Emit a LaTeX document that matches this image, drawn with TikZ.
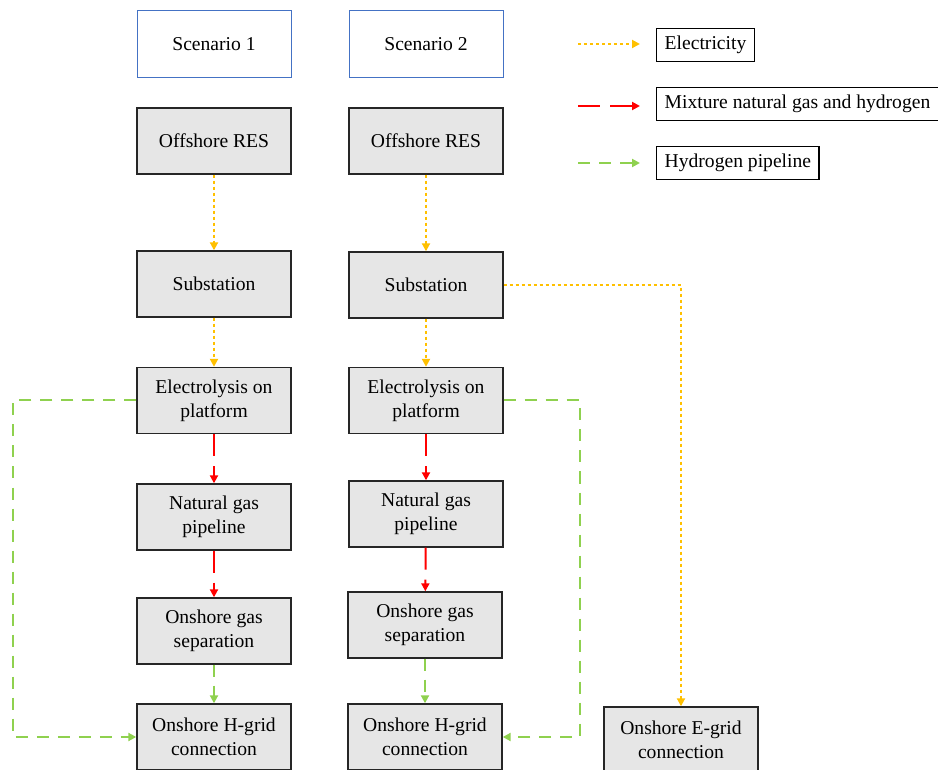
\documentclass[tikz,border=0pt]{standalone}
\usepackage{fontspec}
\setmainfont{Liberation Serif}
\usepackage{tikz}
\usetikzlibrary{arrows.meta}
\definecolor{elec}{HTML}{FFC000}
\definecolor{hydro}{HTML}{8FD14F}
\definecolor{frame}{HTML}{4472C4}
\definecolor{boxgray}{HTML}{E6E6E6}
\tikzset{>={Triangle[length=4pt,width=4pt]}}
\tikzset{
  stage/.style={draw=black!85, fill=boxgray, line width=0.7pt, minimum width=77pt, minimum height=33pt, align=center, inner sep=0pt},
  scen/.style={draw=frame, fill=white, line width=0.5pt, minimum width=77pt, minimum height=33.5pt, inner sep=0pt},
  legbox/.style={draw=black, line width=0.7pt, anchor=west, minimum height=16.5pt, inner xsep=4pt, inner ysep=0pt},
  eline/.style={elec, line width=1pt, dash pattern=on 1.5pt off 1.5pt, ->},
  mline/.style={red, line width=1pt, dash pattern=on 11pt off 5pt, ->},
  hline/.style={hydro, line width=1pt, dash pattern=on 6pt off 4.5pt, ->}
}

\begin{document}
\begin{tikzpicture}[x=0.5pt, y=-0.5pt, font=\fontsize{9.8}{12}\selectfont]
      \useasboundingbox (0, 0) rectangle (938, 770);
      % scenario headers
      \node[scen] (scA) at (214, 44.5) {Scenario 1};
      \node[scen] (scB) at (426, 44.5) {Scenario 2};
      % scenario 1
      \node[stage] (resA) at (214, 141) {Offshore RES};
      \node[stage] (subA) at (214, 284) {Substation};
      \node[stage] (elA) at (214, 400.5) {Electrolysis on\\platform};
      \node[stage] (ngA) at (214, 517) {Natural gas\\pipeline};
      \node[stage] (sepA) at (214, 631) {Onshore gas\\separation};
      \node[stage] (hgA) at (214, 737) {Onshore H-grid\\connection};
      % scenario 2
      \node[stage] (resB) at (426, 141) {Offshore RES};
      \node[stage] (subB) at (426, 285) {Substation};
      \node[stage] (elB) at (426, 400.5) {Electrolysis on\\platform};
      \node[stage] (ngB) at (426, 514) {Natural gas\\pipeline};
      \node[stage] (sepB) at (425, 625) {Onshore gas\\separation};
      \node[stage] (hgB) at (425, 737) {Onshore H-grid\\connection};
      \node[stage] (egB) at (681, 740) {Onshore E-grid\\connection};
      % flows
      \draw[eline] (resA) -- (subA);
      \draw[eline] (subA) -- (elA);
      \draw[mline] (elA) -- (ngA);
      \draw[mline] (ngA) -- (sepA);
      \draw[hline] (sepA) -- (hgA);
      \draw[hline] (elA.west) -- ++(-123, 0) |- (hgA.west);
      \draw[eline] (resB) -- (subB);
      \draw[eline] (subB) -- (elB);
      \draw[eline] (subB.east) -| (egB.north);
      \draw[mline] (elB) -- (ngB);
      \draw[mline] (ngB) -- (sepB);
      \draw[hline] (sepB) -- (hgB);
      \draw[hline] (elB.east) -- ++(76, 0) |- (hgB.east);
      % legend
      \node[legbox] (lgE) at (656, 45) {Electricity};
      \node[legbox] (lgM) at (656, 104) {Mixture natural gas and hydrogen};
      \node[legbox] (lgH) at (656, 163) {Hydrogen pipeline};
      \coordinate (kE) at (578, 44);
      \coordinate (kM) at (578, 106);
      \coordinate (kH) at (578, 163);
      \draw[eline] (kE) -- ([xshift=-8pt]lgE.west |- kE);
      \draw[mline] (kM) -- ([xshift=-8pt]lgM.west |- kM);
      \draw[hline] (kH) -- ([xshift=-8pt]lgH.west |- kH);
    \end{tikzpicture}
\end{document}
